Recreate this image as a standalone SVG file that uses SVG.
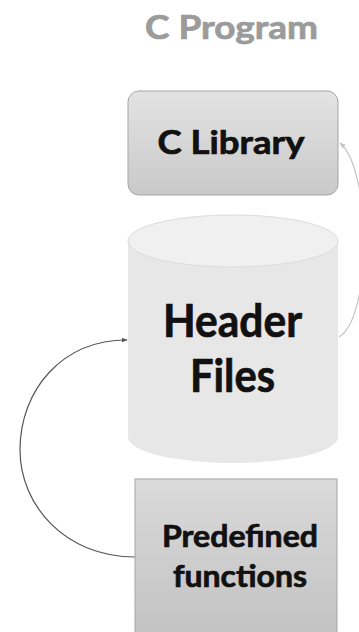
<svg xmlns="http://www.w3.org/2000/svg" width="359" height="632" viewBox="0 0 359 632">
<defs>
<linearGradient id="gBox" x1="0" y1="0" x2="0" y2="1">
<stop offset="0" stop-color="#e3e3e3"/><stop offset="1" stop-color="#c9c9c9"/>
</linearGradient>
<linearGradient id="gPre" x1="0" y1="0" x2="0" y2="1">
<stop offset="0" stop-color="#dadada"/><stop offset="1" stop-color="#c2c2c2"/>
</linearGradient>
<marker id="arrDark" viewBox="0 0 10 10" refX="9" refY="5" markerWidth="6" markerHeight="6" orient="auto" markerUnits="userSpaceOnUse">
<path d="M0,1 L10,5 L0,9 z" fill="#555"/>
</marker>
<marker id="arrLight" viewBox="0 0 10 10" refX="9" refY="5" markerWidth="6" markerHeight="6" orient="auto" markerUnits="userSpaceOnUse">
<path d="M0,1 L10,5 L0,9 z" fill="#c4c4c4"/>
</marker>
</defs>
<style>
text{font-family:Lato,"Open Sans","Liberation Sans",sans-serif;font-weight:bold;text-anchor:middle;fill:#111;stroke:#111;stroke-width:0.7}
.title{fill:#9b9b9b;stroke:#9b9b9b}
</style>
<rect width="359" height="632" fill="#ffffff"/>
<g id="title"><text class="title" x="231.5" y="39" font-size="32" textLength="173" lengthAdjust="spacingAndGlyphs">C Program</text></g>
<g id="connectors" fill="none">
<path d="M135,557 C65,557 20,505 20,450 C20,390 62,340 127,340" stroke="#555" stroke-width="1.2" marker-end="url(#arrDark)"/>
<path d="M339,337 C372,318 372,170 340,143" stroke="#c4c4c4" stroke-width="1.2" marker-end="url(#arrLight)"/>
</g>
<g id="c-library">
<rect x="128" y="91" width="210" height="104" rx="11" fill="url(#gBox)" stroke="#a5a5a5" stroke-width="1"/>
<text x="231" y="154" font-size="32" textLength="147" lengthAdjust="spacingAndGlyphs">C Library</text>
</g>
<g id="header-files">
<path d="M128,241 L128,437 A105,26 0 0,0 338,437 L338,241 Z" fill="#e7e7e7"/>
<ellipse cx="233" cy="241" rx="105" ry="26" fill="#f0f0f0" stroke="#dcdcdc" stroke-width="1"/>
<text x="232.5" y="337" font-size="45" textLength="139" lengthAdjust="spacingAndGlyphs">Header</text>
<text x="232.5" y="392" font-size="45" textLength="85" lengthAdjust="spacingAndGlyphs">Files</text>
</g>
<g id="predefined-functions">
<rect x="135" y="479" width="202" height="160" fill="url(#gPre)" stroke="#a5a5a5" stroke-width="1"/>
<text x="240" y="547" font-size="30" textLength="156" lengthAdjust="spacingAndGlyphs">Predefined</text>
<text x="240" y="587" font-size="30" textLength="134" lengthAdjust="spacingAndGlyphs">functions</text>
</g>
</svg>
